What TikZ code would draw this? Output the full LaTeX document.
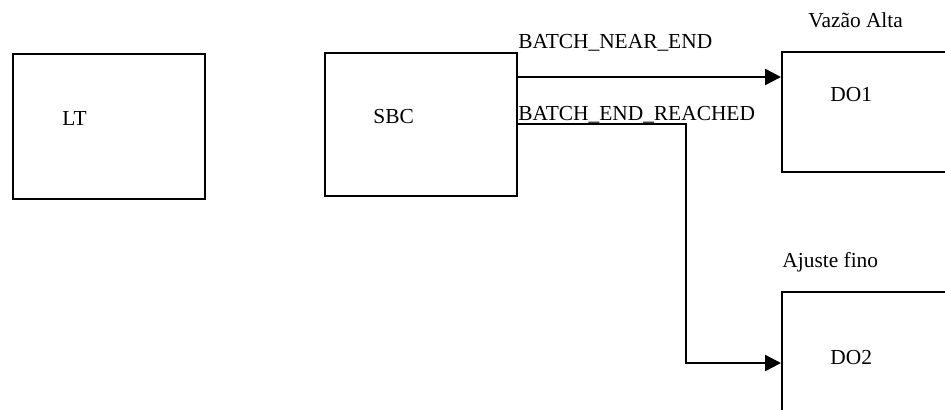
\documentclass[tikz,border=0pt]{standalone}
\usepackage{fontspec}
\setmainfont{Liberation Serif}
\usetikzlibrary{positioning,arrows.meta}

\begin{document}
\begin{tikzpicture}[x=0.5pt, y=-0.5pt, >={Triangle[length=8pt, width=8pt]},
    block/.style={draw=black, rectangle, line width=1pt, inner sep=0pt},
    lbl/.style={anchor=base west, inner sep=0pt, font=\fontsize{10.7}{12.8}\selectfont},
    flow/.style={->, line width=1.25pt}]

  \useasboundingbox (0,0) rectangle (945,409);
  \clip (0,0) rectangle (945,409);

  \node[block, minimum width=95.75pt, minimum height=72.5pt] (lt) at (109,126.5) {};
  \node[block, minimum width=96pt, minimum height=71.5pt] (sbc) at (421,124) {};
  \node[block, minimum width=96pt, minimum height=60pt] (do1) at (878,112) {};
  \node[block, minimum width=96pt, minimum height=71pt] (do2) at (878,363) {};

  \node[lbl] (lttxt) at (62,125) {LT};
  \node[lbl] (sbctxt) at (373,123) {SBC};
  \node[lbl] (do1txt) at (830,101) {DO1};
  \node[lbl] (do2txt) at (830,364) {DO2};
  \node[lbl] (do1cap) at (808,27) {Vazão Alta};
  \node[lbl] (do2cap) at (782,267) {Ajuste fino};
  \node[lbl] (nearlbl) at (518,48) {BATCH\_NEAR\_END};
  \node[lbl] (reachedlbl) at (518,120) {BATCH\_END\_REACHED};

  \coordinate (nearout) at ([yshift=23.5pt]sbc.east);
  \coordinate (drop) at (686,363);

  \draw[flow] (nearout) -- (nearout -| do1.west);
  \draw[flow] (sbc.east) -| (drop) -- (do2.west);
\end{tikzpicture}
\end{document}
